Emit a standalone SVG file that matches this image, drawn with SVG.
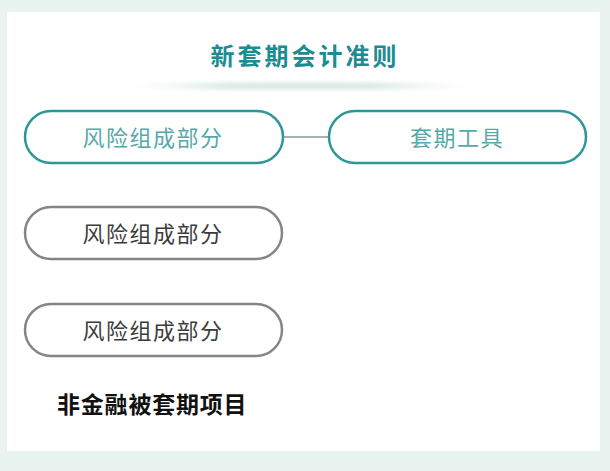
<svg xmlns="http://www.w3.org/2000/svg" width="610" height="471" viewBox="0 0 610 471">
<defs>
<linearGradient id="shadow" x1="0" y1="0" x2="1" y2="0">
<stop offset="0" stop-color="#dfeeea" stop-opacity="0"/>
<stop offset="0.3" stop-color="#d6e8e3" stop-opacity="1"/>
<stop offset="0.7" stop-color="#d6e8e3" stop-opacity="1"/>
<stop offset="1" stop-color="#dfeeea" stop-opacity="0"/>
</linearGradient>
<filter id="blur" x="-10%" y="-100%" width="120%" height="300%"><feGaussianBlur stdDeviation="2"/></filter>
</defs>
<style>
.cjk{font-family:"Noto Sans CJK SC","Noto Sans",sans-serif;}
.pill-teal{fill:#ffffff;stroke:#2e9696;stroke-width:2.5;}
.pill-gray{fill:#ffffff;stroke:#858585;stroke-width:2.5;}
.t-teal{fill:#56a9a8;font-size:22px;letter-spacing:1.5px;text-anchor:middle;}
.t-gray{fill:#3c3c3c;font-size:22px;letter-spacing:1.5px;text-anchor:middle;}
.conn{stroke:#8a9a9a;stroke-width:1.5;fill:none;}
</style>
<rect x="0" y="0" width="610" height="471" fill="#e9f4f1"/>
<rect x="7" y="12" width="593" height="439" fill="#ffffff"/>
<ellipse cx="300" cy="86" rx="175" ry="3.5" fill="url(#shadow)" filter="url(#blur)"/>
<g id="title">
<text class="cjk" x="305" y="65" font-size="24" font-weight="bold" fill="#1c8c93" text-anchor="middle" letter-spacing="3">新套期会计准则</text>
</g>
<g id="connectors">
<line class="conn" x1="283" y1="137" x2="328" y2="137"/>
</g>
<g id="node-risk1">
<rect class="pill-teal" x="25" y="111" width="258" height="52" rx="26"/>
<text class="cjk t-teal" x="153" y="146">风险组成部分</text>
</g>
<g id="node-tool">
<rect class="pill-teal" x="329" y="111" width="257" height="52" rx="26"/>
<text class="cjk t-teal" x="457" y="146">套期工具</text>
</g>
<g id="node-risk2">
<rect class="pill-gray" x="25" y="207" width="257" height="52" rx="26"/>
<text class="cjk t-gray" x="153" y="242">风险组成部分</text>
</g>
<g id="node-risk3">
<rect class="pill-gray" x="25" y="304" width="257" height="52" rx="26"/>
<text class="cjk t-gray" x="153" y="339">风险组成部分</text>
</g>
<g id="label-bottom">
<text class="cjk" x="57" y="413" font-size="23" font-weight="bold" fill="#111111" letter-spacing="0.8">非金融被套期项目</text>
</g>
</svg>
